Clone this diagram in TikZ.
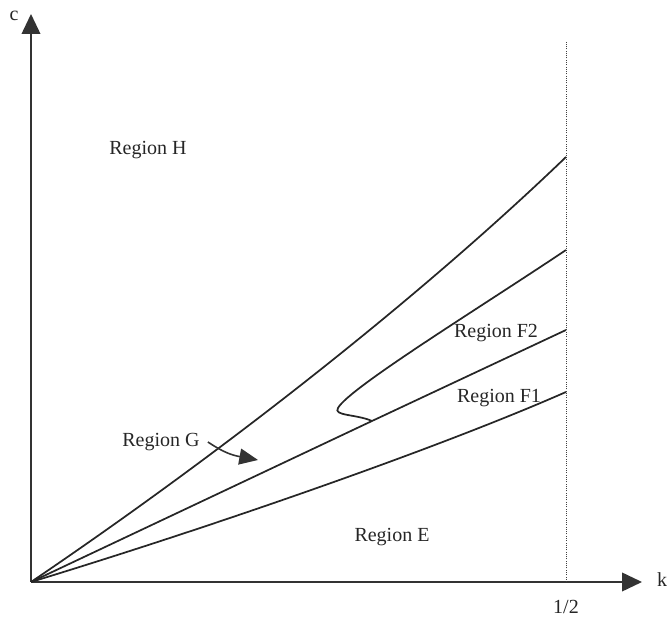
\documentclass[tikz,border=0pt]{standalone}
\usepackage{fontspec}
\setmainfont{Liberation Serif}
\usepackage{tikz}
\usetikzlibrary{arrows.meta}

\begin{document}
\begin{tikzpicture}[x=0.75pt, y=0.75pt,
    axis/.style={line width=1.3pt, black!80, -{Triangle[length=15pt, width=14pt]}},
    curve/.style={line width=1.3pt, black!85},
    lbl/.style={font=\fontsize{15}{18}\selectfont, text=black!85, inner sep=2pt}]
    \useasboundingbox (-31,-45) rectangle (640,582);
    % axes and the line k = 1/2
    \coordinate (O) at (0,0);
    \coordinate (ytip) at (0,568);
    \coordinate (xtip) at (611,0);
    \coordinate (half) at (535,0);
    \coordinate (halftop) at (535,540);
    \draw[axis] (O) -- (ytip);
    \draw[axis] (O) -- (xtip);
    \draw[line width=0.7pt, black!75, densely dotted] (half) -- (halftop);
    \node[lbl] (c) at (-17,566) {c};
    \node[lbl] (k) at (631,2) {k};
    \node[lbl] (onehalf) at (535,-25) {1/2};
    % boundary curves
    \coordinate (top) at (535,425);
    \coordinate (fold) at (535,332);
    \coordinate (mid) at (535,252);
    \coordinate (low) at (535,190);
    \coordinate (J) at (341,161);
    \coordinate (tip) at (307,174);
    \draw[curve] (O) .. controls (180,122) and (380,276) .. (top);
    \draw[curve] (O) -- (J) -- (mid);
    \draw[curve] (J) .. controls (325,168) and (302,166) .. (tip)
        .. controls (318,194) and (450,275) .. (fold);
    \draw[curve] (O) .. controls (190,58) and (410,135) .. (low);
    % region labels
    \node[lbl] (regH) at (117,432) {Region H};
    \node[lbl] (regG) at (130,140) {Region G};
    \node[lbl] (regF2) at (465,249) {Region F2};
    \node[lbl] (regF1) at (468,184) {Region F1};
    \node[lbl] (regE) at (361,45) {Region E};
    \coordinate (gtip) at (227,122);
    \draw[line width=1.2pt, black!80, -{Triangle[length=14pt, width=12pt]}]
        ([xshift=4pt]regG.east) .. controls (192,130) and (200,127) .. (gtip);
\end{tikzpicture}
\end{document}
